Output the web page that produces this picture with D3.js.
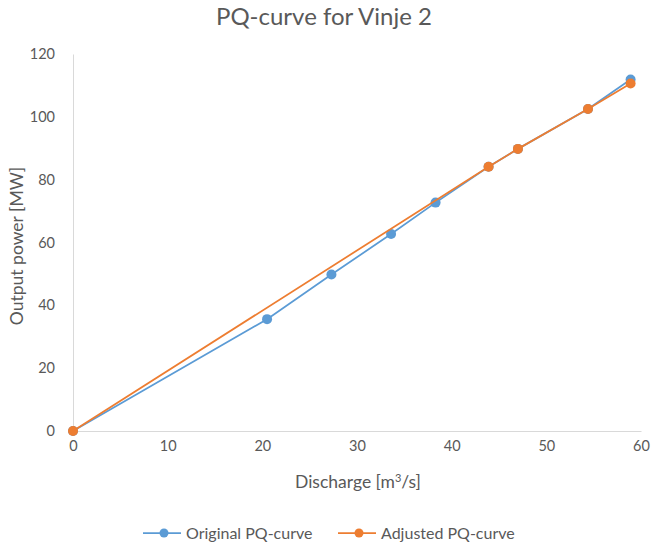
<!DOCTYPE html>
<html>
<head>
<meta charset="utf-8">
<script src="https://cdn.jsdelivr.net/npm/d3@7"></script>
<style>
  body { margin: 0; background: #fff; }
  text { font-family: Lato, "Open Sans", sans-serif; fill: #595959; }
</style>
</head>
<body>
<script>
// data
const originalQ = [0, 20.5, 27.3, 33.6, 38.3, 43.9, 47.0, 54.4, 58.9];
const originalP = [0, 35.6, 49.8, 62.7, 72.7, 84.1, 89.8, 102.5, 111.9];
const adjustedQ = [0, 43.9, 47.0, 54.4, 58.9];
const adjustedP = [0, 84.1, 89.8, 102.5, 110.6];
const xTicks = [0, 10, 20, 30, 40, 50, 60];
const yTicks = [0, 20, 40, 60, 80, 100, 120];

const seriesNames = ["Original PQ-curve", "Adjusted PQ-curve"];
const colors = ["#5B9BD5", "#ED7D31"];

const W = 651, H = 545;
const svg = d3.select("body").append("svg").attr("width", W).attr("height", H);

const x = d3.scaleLinear().domain([0, 60]).range([73, 641]);
const y = d3.scaleLinear().domain([0, 120]).range([431, 54]);

// title
svg.append("text").attr("x", 324).attr("y", 25).attr("text-anchor", "middle")
    .style("font-size", "24px").text("PQ-curve for Vinje 2");

// axes
const xAxis = svg.append("g").attr("transform", "translate(0," + y(0) + ")")
    .call(d3.axisBottom(x).tickValues(xTicks).tickSize(0).tickPadding(10));
const yAxis = svg.append("g").attr("transform", "translate(" + x(0) + ",0)")
    .call(d3.axisLeft(y).tickValues(yTicks).tickSize(0).tickPadding(18));
[xAxis, yAxis].forEach(function(a) {
    a.select(".domain").attr("stroke", "#d9d9d9").attr("stroke-width", 1);
    a.selectAll("text").style("font-size", "14.5px").style("fill", "#595959")
        .style("font-family", "Lato, 'Open Sans', sans-serif");
});

// axis titles
const xt = svg.append("text").attr("x", 358).attr("y", 488).attr("text-anchor", "middle")
    .style("font-size", "17.5px");
xt.append("tspan").text("Discharge [m");
xt.append("tspan").attr("baseline-shift", "super").style("font-size", "11px").text("3");
xt.append("tspan").text("/s]");

svg.append("text").attr("transform", "translate(23,246) rotate(-90)")
    .attr("text-anchor", "middle").style("font-size", "17.5px").text("Output power [MW]");

// series
const series = [
    { q: originalQ, p: originalP },
    { q: adjustedQ, p: adjustedP }
];
const line = d3.line().x(function(d) { return x(d[0]); }).y(function(d) { return y(d[1]); });

series.forEach(function(s, i) {
    const pts = d3.zip(s.q, s.p);
    svg.append("path").datum(pts).attr("d", line)
        .attr("fill", "none").attr("stroke", colors[i]).attr("stroke-width", 1.75);
    svg.selectAll(".pt" + i).data(pts).enter().append("circle")
        .attr("cx", function(d) { return x(d[0]); })
        .attr("cy", function(d) { return y(d[1]); })
        .attr("r", 5).attr("fill", colors[i]);
});

// legend
const legendX = [143, 338];
seriesNames.forEach(function(name, i) {
    const g = svg.append("g").attr("transform", "translate(" + legendX[i] + ",533)");
    g.append("line").attr("x1", 0).attr("x2", 38).attr("stroke", colors[i]).attr("stroke-width", 1.75);
    g.append("circle").attr("cx", 21).attr("r", 4.5).attr("fill", colors[i]);
    g.append("text").attr("x", 43).attr("dy", "0.35em").style("font-size", "16px").text(name);
});
</script>
</body>
</html>
